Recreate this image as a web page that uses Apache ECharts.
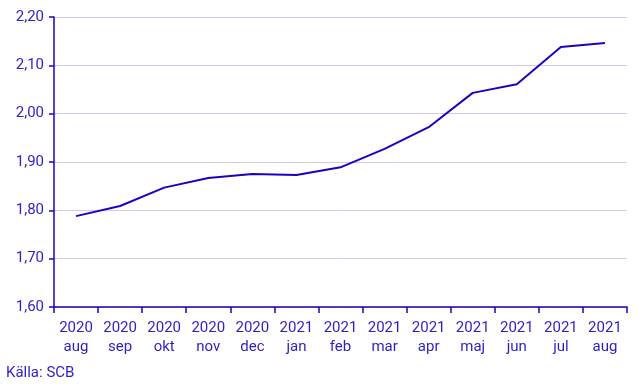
<!DOCTYPE html>
<html><head><meta charset="utf-8">
<script src="https://cdn.jsdelivr.net/npm/echarts@6/dist/echarts.min.js"></script>
<style>html,body{margin:0;padding:0;background:#fff}#c{width:643px;height:386px}</style>
</head><body><div id="c"></div>
<script>
var categories = ['2020\naug','2020\nsep','2020\nokt','2020\nnov','2020\ndec','2021\njan','2021\nfeb','2021\nmar','2021\napr','2021\nmaj','2021\njun','2021\njul','2021\naug'];
var values = [1.788,1.809,1.847,1.867,1.875,1.873,1.889,1.927,1.972,2.043,2.061,2.138,2.146];
var blue = '#1e00c0';
var textBlue = '#2d1fc8';
var chart = echarts.init(document.getElementById('c'));
chart.setOption({
  animation:false,
  grid:{left:54,right:16,top:17,bottom:79},
  graphic:[{type:'text',left:6,top:366,style:{text:'Källa: SCB',font:'15px Roboto',fill:textBlue}}],
  xAxis:{type:'category',data:categories,boundaryGap:true,
    axisLine:{lineStyle:{color:blue,width:1.5}},
    axisTick:{show:true,length:6,lineStyle:{color:blue,width:1.5}},
    axisLabel:{interval:0,color:textBlue,fontFamily:'Roboto',fontSize:15,lineHeight:19,margin:12}},
  yAxis:{type:'value',min:1.6,max:2.2,interval:0.1,
    axisLine:{show:true,lineStyle:{color:blue,width:1.5}},
    axisTick:{show:true,length:5,lineStyle:{color:blue,width:1.5}},
    splitLine:{lineStyle:{color:'#cfcbea',width:1}},
    axisLabel:{color:textBlue,fontFamily:'Roboto',fontSize:15,margin:10,
      formatter:function(v){return v.toFixed(2).replace('.',',');}}},
  series:[{type:'line',data:values,symbol:'none',lineStyle:{color:blue,width:2}}]
});
</script></body></html>
